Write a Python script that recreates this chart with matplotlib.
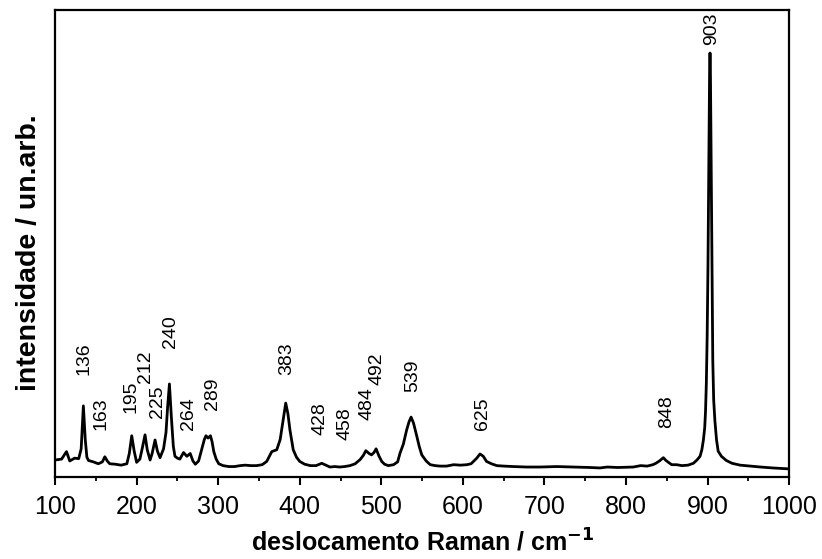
import numpy as np
import matplotlib
matplotlib.use('Agg')
import matplotlib.pyplot as plt

plt.rcParams['font.family'] = ['Liberation Sans', 'DejaVu Sans']

# Raman trace: (shift cm-1, intensity arb. units)
trace = [
    (100, 0.036), (108, 0.038), (114, 0.054), (118, 0.034), (124, 0.040), (129, 0.039),
    (132, 0.060), (134.7, 0.152), (137, 0.080), (139, 0.042), (141, 0.035), (147, 0.032),
    (153, 0.028), (158, 0.032), (161, 0.043), (164, 0.034), (167, 0.028), (174, 0.027),
    (181, 0.025), (188, 0.028), (191, 0.050), (194, 0.088), (197, 0.055), (200, 0.031),
    (204, 0.038), (207, 0.062), (210.3, 0.090), (213, 0.058), (216.5, 0.036), (219, 0.050),
    (222.6, 0.079), (225.5, 0.055), (228.7, 0.041), (233, 0.060), (236, 0.095), (238, 0.150),
    (240.2, 0.199), (242.5, 0.130), (245, 0.065), (247, 0.044), (250, 0.040), (253, 0.038),
    (257.5, 0.052), (261.6, 0.044), (265.7, 0.050), (269, 0.034), (272, 0.027), (276, 0.034),
    (280, 0.060), (283, 0.080), (285, 0.088), (287.6, 0.083), (290.5, 0.088), (292.5, 0.075),
    (294.6, 0.054), (297.5, 0.038), (300.7, 0.028), (306, 0.024), (313, 0.022), (320, 0.022),
    (327, 0.024), (333, 0.025), (340, 0.024), (347, 0.024), (354, 0.026), (359.5, 0.033),
    (365.7, 0.054), (371.8, 0.058), (376, 0.080), (379.5, 0.120), (382.8, 0.158), (385.5, 0.135),
    (388, 0.100), (392, 0.058), (396, 0.042), (400, 0.033), (406, 0.027), (413, 0.024),
    (420, 0.024), (427, 0.029), (432, 0.025), (437, 0.021), (443, 0.022), (449, 0.021),
    (455, 0.022), (461.6, 0.024), (468, 0.028), (474, 0.037), (478, 0.046), (481, 0.056),
    (485, 0.050), (488, 0.047), (491, 0.052), (493.6, 0.060), (497, 0.045), (500.5, 0.033),
    (504, 0.027), (508.6, 0.024), (515, 0.026), (520, 0.032), (523, 0.051), (527, 0.070),
    (531, 0.100), (534, 0.118), (536.5, 0.128), (539.5, 0.115), (543.5, 0.087), (546.5, 0.065),
    (549.6, 0.047), (555, 0.034), (560, 0.026), (566, 0.024), (572, 0.023), (580, 0.023),
    (588.7, 0.026), (597, 0.025), (605, 0.026), (610, 0.028), (613, 0.033), (617, 0.040),
    (621, 0.049), (625, 0.044), (629, 0.033), (635, 0.028), (641.6, 0.024), (650, 0.023),
    (662, 0.022), (678, 0.021), (695, 0.021), (715, 0.022), (736, 0.021), (756, 0.020),
    (768, 0.019), (777, 0.021), (790, 0.020), (809, 0.021), (818, 0.024), (826, 0.023),
    (833, 0.026), (836.6, 0.029), (841, 0.034), (845.8, 0.041), (849, 0.035), (852, 0.031),
    (856, 0.026), (862, 0.026), (868.6, 0.024), (876, 0.025), (882.6, 0.029), (887, 0.036),
    (890.8, 0.044), (893, 0.058), (894.9, 0.079), (896.5, 0.105), (897.5, 0.140), (898.5, 0.200),
    (899.5, 0.300), (900.5, 0.450), (901.5, 0.650), (902.5, 0.870), (903.0, 0.908),
    (903.5, 0.870), (904.5, 0.650), (905.5, 0.420), (906.4, 0.250), (907.5, 0.165),
    (909, 0.120), (911, 0.079), (913, 0.055), (917, 0.044), (923, 0.035), (930, 0.029),
    (940, 0.025), (952, 0.023), (965, 0.021), (980, 0.019), (990, 0.018), (1000, 0.017),
]
shift = [p[0] for p in trace]
intensity = [p[1] for p in trace]

# peak labels (cm-1)
peaks = [136, 163, 195, 212, 225, 240, 264, 289, 383, 428, 458, 484, 492, 539, 625, 848, 903]

fig = plt.figure(figsize=(8.22, 5.59), dpi=100)
ax = fig.add_axes([0.067, 0.147, 0.893, 0.835])
ax.plot(shift, intensity, color='black', lw=2.0)

# label placement: (x offset, bottom of text)
label_pos = {136: (0, 0.218), 163: (-7, 0.100), 195: (-2, 0.137), 212: (-1, 0.200),
             225: (0, 0.126), 240: (1, 0.276), 264: (-1, 0.100), 289: (4, 0.143),
             383: (1, 0.218), 428: (-3, 0.090), 458: (-2, 0.079), 484: (-1, 0.122),
             492: (3, 0.197), 539: (0, 0.182), 625: (-1, 0.100), 848: (2, 0.105),
             903: (2, 0.925)}
for p in peaks:
    dx, yb = label_pos[p]
    ax.text(p + dx, yb, str(p), rotation=90, ha='center', va='bottom', fontsize=14)

ax.set_xlim(100, 1000)
ax.set_ylim(0, 1.0)
ax.set_xticks(range(100, 1001, 100))
ax.set_xticks(range(150, 1000, 100), minor=True)
ax.set_yticks([])
ax.tick_params(axis='x', which='major', direction='out', length=6, width=1.5, labelsize=18, pad=7)
ax.tick_params(axis='x', which='minor', direction='out', length=3, width=1.3)
for s in ax.spines.values():
    s.set_linewidth(1.6)

ax.set_xlabel('deslocamento Raman / cm$^{\\mathbf{-1}}$', fontsize=18, fontweight='bold', labelpad=7)
ax.set_ylabel('intensidade / un.arb.', fontsize=20.5, fontweight='bold')
ax.yaxis.set_label_coords(-0.018, 0.48)

fig.savefig('out.png', dpi=100)
